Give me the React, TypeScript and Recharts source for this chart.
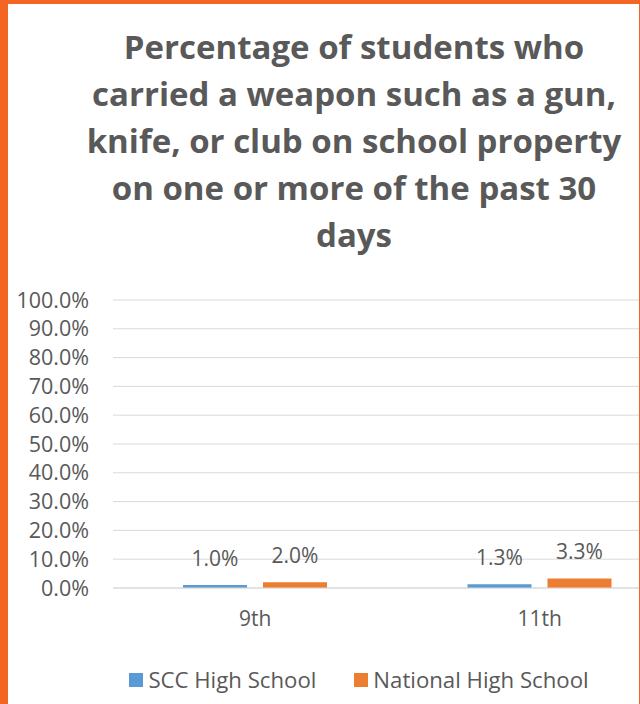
import React from 'react';
import { BarChart, Bar, XAxis, YAxis, CartesianGrid, Legend, LabelList } from 'recharts';

const grades = ['9th', '11th'];
const sccValues = [1.0, 1.3];
const nationalValues = [2.0, 3.3];
const yTicks = [0, 10, 20, 30, 40, 50, 60, 70, 80, 90, 100];
const seriesNames = ['SCC High School', 'National High School'];
const titleLines = [
  'Percentage of students who',
  'carried a weapon such as a gun,',
  'knife, or club on school property',
  'on one or more of the past 30',
  'days',
];

const TEXT = '#595959';
const FONT = '"Open Sans", "DejaVu Sans", sans-serif';

const chartData = grades.map((g, i) => ({
  grade: g,
  scc: sccValues[i],
  national: nationalValues[i],
}));

const fmt = (v: any) => `${Number(v).toFixed(1)}%`;

// keep the legend in series order (recharts sorts it by name otherwise)
const LegendContent = (props: any) => {
  const { payload = [] } = props;
  const items = seriesNames
    .map((n) => payload.find((p: any) => p.value === n))
    .filter(Boolean);
  return (
    <div style={{ display: 'flex', justifyContent: 'center', fontFamily: FONT, fontSize: 22.2, color: TEXT, lineHeight: '28px' }}>
      {items.map((p: any, i: number) => (
        <div key={p.value} style={{ display: 'flex', alignItems: 'center', marginLeft: i > 0 ? 38 : 0 }}>
          <span style={{ width: 14, height: 14, background: p.color, marginRight: 5, display: 'inline-block' }} />
          <span>{p.value}</span>
        </div>
      ))}
    </div>
  );
};

export default function App() {
  return (
    <div style={{ position: 'fixed', left: 0, top: 0, width: 640, height: 704, background: '#F26522' }}>
      <div style={{ position: 'absolute', left: 8, top: 4, width: 631, height: 700, background: '#fff', overflow: 'hidden' }}>
        <div
          style={{
            position: 'absolute',
            left: 0,
            top: 19,
            width: 692,
            textAlign: 'center',
            fontFamily: FONT,
            fontWeight: 700,
            fontSize: 33,
            lineHeight: '47px',
            color: TEXT,
            whiteSpace: 'nowrap',
          }}
        >
          {titleLines.map((l) => (
            <div key={l}>{l}</div>
          ))}
        </div>
        <div style={{ position: 'absolute', left: 0, top: 0 }}>
          <BarChart
            width={702}
            height={700}
            data={chartData}
            margin={{ top: 296, right: 28, left: 0, bottom: 26 }}
            barGap={16}
          >
            <CartesianGrid horizontal vertical={false} stroke="#d9d9d9" />
            <XAxis
              dataKey="grade"
              height={60}
              axisLine={{ stroke: '#d9d9d9' }}
              tickLine={false}
              tickSize={0}
              tickMargin={23}
              tick={{ fill: TEXT, fontSize: 21, fontFamily: FONT }}
            />
            <YAxis
              width={105}
              domain={[0, 100]}
              ticks={yTicks}
              interval={0}
              axisLine={false}
              tickLine={false}
              tickSize={0}
              tickMargin={24}
              tickFormatter={fmt}
              tick={{ fill: TEXT, fontSize: 21.5, fontFamily: FONT }}
            />
            <Legend
              verticalAlign="bottom"
              height={30}
              content={<LegendContent />}
              wrapperStyle={{ top: 662, left: 0, width: 702, bottom: 'auto' }}
            />
            <Bar dataKey="scc" name={seriesNames[0]} fill="#5B9BD5" barSize={64} isAnimationActive={false}>
              <LabelList dataKey="scc" position="top" offset={19} formatter={fmt} style={{ fill: TEXT, fontSize: 21, fontFamily: FONT }} />
            </Bar>
            <Bar dataKey="national" name={seriesNames[1]} fill="#ED7D31" barSize={64} isAnimationActive={false}>
              <LabelList dataKey="national" position="top" offset={19} formatter={fmt} style={{ fill: TEXT, fontSize: 21, fontFamily: FONT }} />
            </Bar>
          </BarChart>
        </div>
      </div>
    </div>
  );
}
